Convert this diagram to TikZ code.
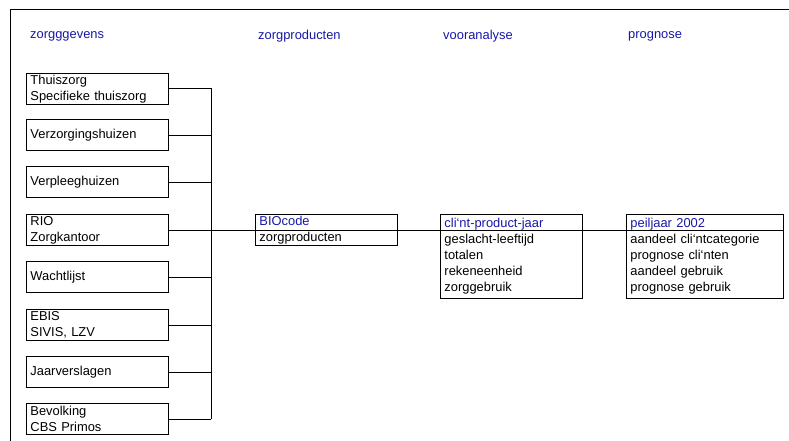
\documentclass[tikz,border=0pt]{standalone}
\usepackage{fontspec}
\setmainfont{Liberation Sans}
\definecolor{headblue}{RGB}{24,24,168}
\tikzset{
  font=\fontsize{12.9}{16}\selectfont,
  srcbox/.style={draw, line width=0.9pt, anchor=north west, inner xsep=4pt, inner ysep=0pt,
    text width=134pt, minimum height=31pt, align=left},
  databox/.style={srcbox, minimum height=84pt},
  header/.style={anchor=west, text=headblue, inner sep=0pt},
  link/.style={line width=0.9pt},
}
\begin{document}
\begin{tikzpicture}[x=1pt, y=-1pt]
\useasboundingbox (0,0) rectangle (789,441);
% outer frame
\draw[line width=1pt] (10,441) -- (10,10) -- (789,10);

% column headings
\node[header] (h1) at (30,36.5) {zorgggevens};
\node[header] (h2) at (258,36.5) {zorgproducten};
\node[header] (h3) at (443,36.5) {vooranalyse};
\node[header] (h4) at (628,36.5) {prognose};

% data sources
\node[srcbox] (s1) at (26,73)  {Thuiszorg\\Specifieke thuiszorg};
\node[srcbox] (s2) at (26,119) {Verzorgingshuizen};
\node[srcbox] (s3) at (26,166) {Verpleeghuizen};
\node[srcbox] (s4) at (26,214) {RIO\\Zorgkantoor};
\node[srcbox] (s5) at (26,261) {Wachtlijst};
\node[srcbox] (s6) at (26,309) {EBIS\\SIVIS, LZV};
\node[srcbox] (s7) at (26,356) {Jaarverslagen};
\node[srcbox] (s8) at (26,403) {Bevolking\\CBS Primos};

% bus collecting the sources
\coordinate (bt) at (211,88);
\coordinate (bb) at (211,419);
\draw[link] (bt) -- (bb);
\foreach \i in {1,...,8} {
  \draw[link] (s\i.east) -- (s\i.east -| bt);
}

% product and analysis boxes
\node[srcbox] (p1) at (255,214) {\textcolor{headblue}{BIOcode}\\zorgproducten};
\node[databox] (p2) at (440,214) {\textcolor{headblue}{cli‘nt-product-jaar}\\geslacht-leeftijd\\totalen\\rekeneenheid\\zorggebruik};
\node[databox, text width=149pt] (p3) at (626,214) {\textcolor{headblue}{peiljaar 2002}\\aandeel cli‘ntcategorie\\prognose cli‘nten\\aandeel gebruik\\prognose gebruik};

% main chain
\draw[link] (s4.east) -- (p3.east |- s4.east);
\end{tikzpicture}
\end{document}
